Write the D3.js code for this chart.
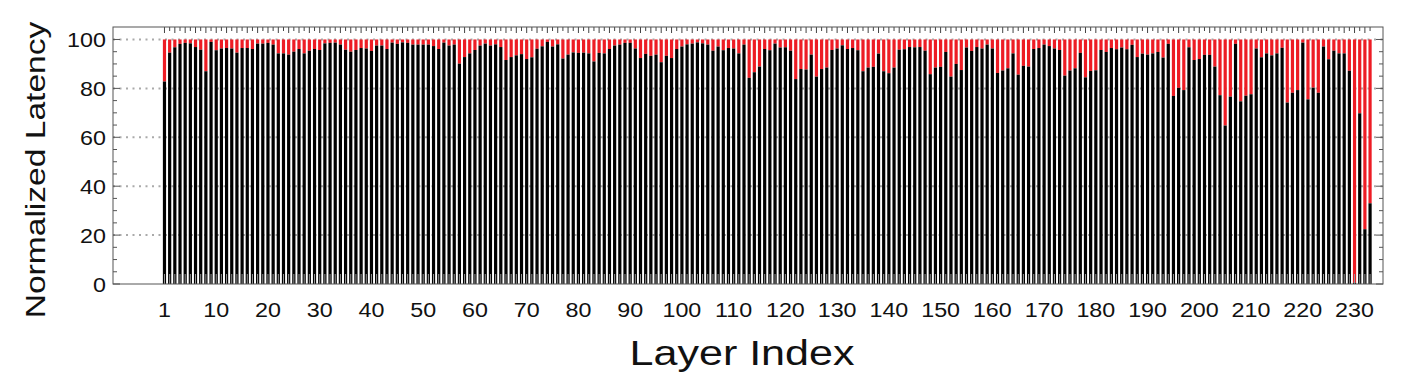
<!DOCTYPE html>
<html>
<head>
<meta charset="utf-8">
<script src="https://cdn.jsdelivr.net/npm/d3@7"></script>
<style>
  body { margin: 0; background: #fff; }
  text { font-family: Arial, "Liberation Sans", sans-serif; fill: #111; }
</style>
</head>
<body>
<div id="chart"></div>
<script>
// black part of each bar (share of latency, %), layers 1..234; red part is the rest up to 100
const blackPart = [
  82.8, 94.6, 96.8, 98.2, 98.6, 98.4, 96.9, 95.8, 87.0, 99.0,
  95.6, 96.3, 96.5, 96.3, 94.6, 96.5, 96.5, 96.1, 98.3, 98.3,
  98.6, 97.9, 94.3, 94.3, 93.8, 95.0, 96.1, 94.3, 95.4, 96.1,
  95.7, 98.4, 98.6, 98.7, 97.9, 95.8, 95.0, 95.7, 96.5, 96.3,
  95.3, 97.5, 97.5, 96.1, 98.7, 98.2, 98.8, 98.6, 97.9, 97.9,
  97.9, 97.9, 97.3, 96.1, 98.7, 97.5, 97.9, 90.1, 92.8, 94.3,
  95.7, 97.5, 98.3, 97.5, 98.0, 96.9, 91.6, 92.8, 93.5, 94.0,
  92.0, 92.7, 96.2, 97.2, 99.0, 97.1, 98.0, 92.2, 93.8, 94.7,
  94.5, 94.6, 94.3, 91.0, 94.5, 94.3, 96.1, 97.5, 97.9, 98.6,
  98.6, 96.3, 92.4, 94.1, 93.3, 93.8, 90.7, 93.3, 92.4, 96.1,
  97.1, 98.0, 98.3, 98.8, 98.4, 97.9, 95.4, 97.1, 95.6, 96.5,
  96.3, 94.3, 97.9, 84.3, 86.6, 88.9, 96.1, 95.6, 98.3, 96.7,
  96.8, 95.4, 83.8, 87.9, 87.7, 93.8, 84.8, 87.9, 88.5, 95.7,
  96.3, 97.6, 96.1, 96.5, 95.6, 87.0, 88.5, 88.8, 94.2, 87.0,
  86.2, 88.5, 95.8, 96.0, 96.9, 96.8, 96.9, 95.4, 85.8, 88.5,
  88.8, 94.9, 84.8, 90.0, 87.5, 96.7, 95.3, 96.9, 96.3, 97.9,
  96.3, 86.3, 87.3, 88.2, 94.3, 85.6, 89.2, 88.9, 96.1, 96.5,
  97.9, 97.3, 96.3, 95.7, 85.2, 87.3, 88.2, 94.5, 84.5, 87.1,
  87.4, 95.7, 94.9, 96.5, 96.0, 96.7, 96.0, 97.8, 92.8, 94.2,
  93.8, 94.3, 94.9, 92.6, 98.2, 76.9, 80.2, 79.3, 96.8, 91.6,
  92.0, 93.7, 93.7, 88.9, 77.2, 64.8, 76.6, 98.2, 74.7, 77.0,
  77.6, 96.3, 92.7, 94.3, 93.5, 94.3, 96.6, 74.2, 78.2, 79.3,
  98.7, 75.5, 80.3, 78.2, 97.1, 91.9, 95.4, 94.3, 94.3, 87.2,
  0.5, 69.8, 22.4, 33.0
];
const layers = blackPart.map((d, i) => i + 1);
const xTickLabels = ["1", "10", "20", "30", "40", "50", "60", "70", "80", "90", "100", "110",
  "120", "130", "140", "150", "160", "170", "180", "190", "200", "210", "220", "230"];
const yTicks = [0, 20, 40, 60, 80, 100];

const width = 1403, height = 380;
const plotLeft = 113, plotRight = 1383, plotTop = 27, plotBottom = 284;

const svg = d3.select("#chart").append("svg")
  .attr("width", width)
  .attr("height", height);

const x = d3.scaleLinear().domain([-8.95, 236.5]).range([plotLeft, plotRight]);
const y = d3.scaleLinear().domain([0, 105.1]).range([plotBottom, plotTop]);
const barW = 3.2;

// dotted grid
svg.append("g").selectAll("line")
  .data(yTicks.filter(d => d > 0))
  .join("line")
  .attr("x1", plotLeft).attr("x2", plotRight)
  .attr("y1", d => y(d)).attr("y2", d => y(d))
  .attr("stroke", "#aaa")
  .attr("stroke-width", 2)
  .attr("stroke-dasharray", "2,4.5");

// bars
const bars = svg.append("g");
bars.selectAll("rect.red")
  .data(layers)
  .join("rect")
  .attr("class", "red")
  .attr("x", d => x(d) - barW / 2)
  .attr("width", barW)
  .attr("y", y(100))
  .attr("height", (d, i) => y(blackPart[i]) - y(100))
  .attr("fill", "#ed1c24");
bars.selectAll("rect.black")
  .data(layers)
  .join("rect")
  .attr("class", "black")
  .attr("x", d => x(d) - barW / 2)
  .attr("width", barW)
  .attr("y", (d, i) => y(blackPart[i]))
  .attr("height", (d, i) => plotBottom - y(blackPart[i]))
  .attr("fill", "#000");

// minor ticks along bottom (inside) and top
svg.append("g").selectAll("line")
  .data(layers)
  .join("line")
  .attr("x1", d => x(d)).attr("x2", d => x(d))
  .attr("y1", plotBottom).attr("y2", plotBottom - 10)
  .attr("stroke", "#999").attr("stroke-width", 1);
svg.append("g").selectAll("line")
  .data(layers)
  .join("line")
  .attr("x1", d => x(d)).attr("x2", d => x(d))
  .attr("y1", plotTop).attr("y2", (d, i) => plotTop + (i % 2 === 0 ? 6 : 4))
  .attr("stroke", "#444").attr("stroke-width", 1);

// frame
svg.append("rect")
  .attr("x", plotLeft).attr("y", plotTop)
  .attr("width", plotRight - plotLeft).attr("height", plotBottom - plotTop)
  .attr("fill", "none").attr("stroke", "#555").attr("stroke-width", 1);

// y axis ticks (left and right, inside)
const yMinor = d3.range(0, 105, 5);
svg.append("g").selectAll("line")
  .data(yMinor)
  .join("line")
  .attr("x1", plotLeft).attr("x2", d => plotLeft + (d % 20 === 0 ? 7 : 4))
  .attr("y1", d => y(d)).attr("y2", d => y(d))
  .attr("stroke", "#555");
svg.append("g").selectAll("line")
  .data(yMinor)
  .join("line")
  .attr("x1", plotRight).attr("x2", d => plotRight - (d % 20 === 0 ? 7 : 4))
  .attr("y1", d => y(d)).attr("y2", d => y(d))
  .attr("stroke", "#555");

// the original figure's lettering is a little wider than Arial
const stretch = 1.11;

// y labels
svg.append("g").selectAll("text")
  .data(yTicks)
  .join("text")
  .attr("transform", d => "translate(106," + (y(d) + 7.8) + ") scale(" + stretch + ",1)")
  .attr("text-anchor", "end")
  .style("font-size", "21px")
  .text(d => d);

// x labels: "1" sits on layer 1, the rest one step later
svg.append("g").selectAll("text")
  .data(xTickLabels)
  .join("text")
  .attr("transform", (d, i) => "translate(" + x(i === 0 ? 1 : +d + 1) + ",316.5) scale(" + stretch + ",1)")
  .attr("text-anchor", "middle")
  .style("font-size", "21px")
  .text(d => d);

svg.append("text")
  .attr("transform", "translate(45,170) rotate(-90) scale(1.2,1)")
  .attr("text-anchor", "middle")
  .style("font-size", "28px")
  .text("Normalized Latency");

svg.append("text")
  .attr("transform", "translate(742,365) scale(1.23,1)")
  .attr("text-anchor", "middle")
  .style("font-size", "35px")
  .text("Layer Index");
</script>
</body>
</html>
